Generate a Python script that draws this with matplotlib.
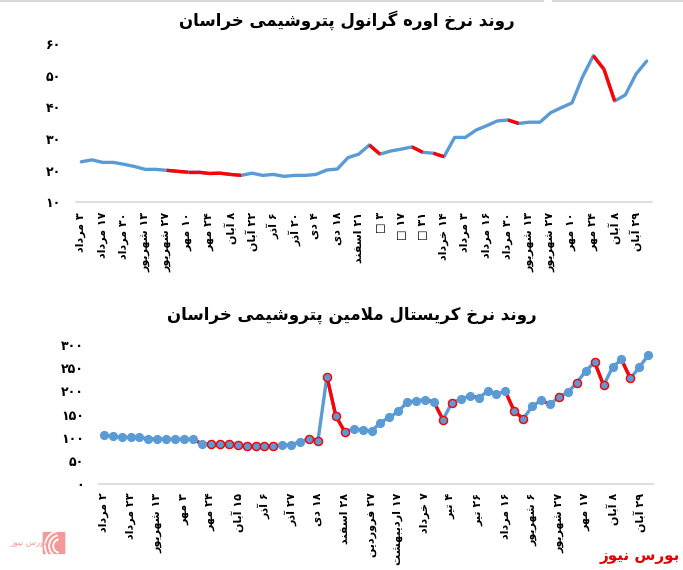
import re
import matplotlib
matplotlib.use('Agg')
import matplotlib.pyplot as plt
from matplotlib.lines import Line2D
from matplotlib.patches import FancyBboxPatch, Arc

# ---------------- data ----------------
urea_labels = ['۳ مرداد', '۱۷ مرداد', '۳۰ مرداد', '۱۳ شهریور', '۲۷ شهریور', '۱۰ مهر', '۲۴ مهر',
               '۸ آبان', '۲۲ آبان', '۶ آذر', '۲۰ آذر', '۴ دی', '۱۸ دی', '۲۱ اسفند', '۳ □',
               '۱۷ □', '۳۱ □', '۱۴ خرداد', '۳ مرداد', '۱۶ مرداد', '۳۰ مرداد', '۱۳ شهریور',
               '۲۷ شهریور', '۱۰ مهر', '۲۴ مهر', '۸ آبان', '۲۹ آبان']
urea_values = [22.8, 23.4, 22.6, 22.6, 22.0, 21.3, 20.4, 20.4, 20.1, 19.8,
               19.5, 19.5, 19.1, 19.2, 18.8, 18.5, 19.2, 18.5, 18.8, 18.2,
               18.5, 18.5, 18.8, 20.2, 20.5, 24.1, 25.2, 28.1, 25.2, 26.2,
               26.8, 27.5, 25.8, 25.5, 24.4, 30.5, 30.5, 32.8, 34.2, 35.7,
               36.0, 34.9, 35.3, 35.3, 38.3, 39.9, 41.4, 49.7, 56.3, 52.0,
               42.0, 43.9, 50.5, 54.6]
urea_red_segments = [9, 10, 11, 12, 13, 14, 15, 28, 32, 34, 41, 49, 50]
urea_yticks = [10, 20, 30, 40, 50, 60]

mel_labels = ['۲ مرداد', '۲۳ مرداد', '۱۳ شهریور', '۳ مهر', '۲۴ مهر', '۱۵ آبان', '۶ آذر',
              '۲۷ آذر', '۱۸ دی', '۲۸ اسفند', '۲۷ فروردین', '۱۷ اردیبهشت', '۷ خرداد', '۴ تیر',
              '۲۶ تیر', '۱۶ مرداد', '۶ شهریور', '۲۷ شهریور', '۱۷ مهر', '۸ آبان', '۲۹ آبان']
mel_values = [106, 103, 101, 101, 101, 98, 98, 97, 97, 97, 97,
              87, 87, 87, 87, 85, 83, 83, 83, 83,
              85, 85, 92, 98, 94, 232, 147, 113,
              120, 117, 114,
              133, 144, 157, 177, 180, 182, 177, 139, 176, 183,
              191, 186, 200, 195, 200, 157, 141, 168, 181, 172,
              188, 198, 219, 244, 263, 213, 252, 269, 228, 252, 278]
mel_red_segments = [11, 12, 13, 14, 15, 16, 17, 18, 19, 24, 26, 27, 37, 38, 42, 44, 46, 47, 50, 56, 59]
mel_red_markers = [12, 13, 14, 15, 16, 17, 18, 19, 23, 24, 25, 26, 27, 38, 39, 46, 47, 51, 53, 55, 56, 59]
mel_yticks = [0, 50, 100, 150, 200, 250, 300]

title_top = 'روند نرخ اوره گرانول پتروشیمی خراسان'
title_bottom = 'روند نرخ کریستال ملامین پتروشیمی خراسان'
brand = 'بورس نیوز'

# ---------------- minimal Persian shaping ----------------
FORMS = {
    'ا': ('\uFE8D', '\uFE8E'), 'آ': ('\uFE81', '\uFE82'),
    'ب': ('\uFE8F', '\uFE90', '\uFE91', '\uFE92'), 'پ': ('\uFB56', '\uFB57', '\uFB58', '\uFB59'),
    'ت': ('\uFE95', '\uFE96', '\uFE97', '\uFE98'), 'ج': ('\uFE9D', '\uFE9E', '\uFE9F', '\uFEA0'),
    'چ': ('\uFB7A', '\uFB7B', '\uFB7C', '\uFB7D'), 'ح': ('\uFEA1', '\uFEA2', '\uFEA3', '\uFEA4'),
    'خ': ('\uFEA5', '\uFEA6', '\uFEA7', '\uFEA8'), 'د': ('\uFEA9', '\uFEAA'),
    'ذ': ('\uFEAB', '\uFEAC'), 'ر': ('\uFEAD', '\uFEAE'), 'ز': ('\uFEAF', '\uFEB0'),
    'ژ': ('\uFB8A', '\uFB8B'), 'س': ('\uFEB1', '\uFEB2', '\uFEB3', '\uFEB4'),
    'ش': ('\uFEB5', '\uFEB6', '\uFEB7', '\uFEB8'), 'ع': ('\uFEC9', '\uFECA', '\uFECB', '\uFECC'),
    'ف': ('\uFED1', '\uFED2', '\uFED3', '\uFED4'), 'ق': ('\uFED5', '\uFED6', '\uFED7', '\uFED8'),
    'ک': ('\uFB8E', '\uFB8F', '\uFB90', '\uFB91'), 'گ': ('\uFB92', '\uFB93', '\uFB94', '\uFB95'),
    'ل': ('\uFEDD', '\uFEDE', '\uFEDF', '\uFEE0'), 'م': ('\uFEE1', '\uFEE2', '\uFEE3', '\uFEE4'),
    'ن': ('\uFEE5', '\uFEE6', '\uFEE7', '\uFEE8'), 'ه': ('\uFEE9', '\uFEEA', '\uFEEB', '\uFEEC'),
    'و': ('\uFEED', '\uFEEE'), 'ی': ('\uFBFC', '\uFBFD', '\uFBFE', '\uFBFF'),
}
LAMALEF = {'ا': ('\uFEFB', '\uFEFC'), 'آ': ('\uFEF5', '\uFEF6')}


def _dual(c):
    return c in FORMS and len(FORMS[c]) == 4


def fa(s):
    res = []
    n = len(s)
    i = 0
    while i < n:
        c = s[i]
        if c not in FORMS:
            res.append(c)
            i += 1
            continue
        pj = i > 0 and _dual(s[i - 1])
        if c == 'ل' and i + 1 < n and s[i + 1] in LAMALEF:
            lig = LAMALEF[s[i + 1]]
            res.append(lig[1] if pj else lig[0])
            i += 2
            continue
        nj = _dual(c) and i + 1 < n and s[i + 1] in FORMS
        f = FORMS[c]
        if pj and nj:
            res.append(f[3])
        elif pj:
            res.append(f[1])
        elif nj:
            res.append(f[2])
        else:
            res.append(f[0])
        i += 1
    shaped = ''.join(res)
    tokens = re.findall(r'[0-9\u06F0-\u06F9]+|.', shaped)
    return ''.join(reversed(tokens))


def fa_num(v):
    return str(v).translate(str.maketrans('0123456789', '۰۱۲۳۴۵۶۷۸۹'))


# ---------------- figure ----------------
plt.rcParams['font.family'] = ['DejaVu Sans']
BLUE = '#5B9BD5'
RED = '#FF0000'
AXC = '#D9D9D9'

W, H = 683, 570
fig = plt.figure(figsize=(W / 100, H / 100), dpi=100)


def fx(px):
    return px / W


def fy(py):
    return 1 - py / H


def style_axes(ax):
    for s in ['top', 'right', 'left']:
        ax.spines[s].set_visible(False)
    ax.spines['bottom'].set_color(AXC)
    ax.spines['bottom'].set_linewidth(1.2)
    ax.tick_params(length=0)


# top chart
ax1 = fig.add_axes([fx(76), fy(202.3), fx(652) - fx(76), fy(44) - fy(202.3)])
n1 = len(urea_values)
xs1 = list(range(n1))
ax1.plot(xs1, urea_values, color=BLUE, lw=2.4, solid_joinstyle='round', solid_capstyle='round', zorder=2)
for k in urea_red_segments:
    ax1.plot([k - 1, k], [urea_values[k - 1], urea_values[k]], color=RED, lw=2.4,
             solid_capstyle='butt', zorder=3)
ax1.set_xlim(-0.5, n1 - 0.5)
ax1.set_ylim(10, 60)
ax1.set_yticks(urea_yticks)
ax1.set_yticklabels([fa_num(v) for v in urea_yticks], fontsize=9, fontweight='bold')
ax1.set_xticks(list(range(0, n1, 2))[:len(urea_labels)])
ax1.set_xticklabels([fa(t) for t in urea_labels], rotation=90, fontsize=8, fontweight='bold')
style_axes(ax1)
ax1.tick_params(axis='y', pad=11)
ax1.tick_params(axis='x', pad=7)
fig.text(fx(347), fy(20), fa(title_top), ha='center', va='center', fontsize=12, fontweight='bold')

# bottom chart
ax2 = fig.add_axes([fx(99.3), fy(484.3), fx(652.7) - fx(99.3), fy(345) - fy(484.3)])
n2 = len(mel_values)
xs2 = list(range(n2))
ax2.plot(xs2, mel_values, color=BLUE, lw=2.4, solid_joinstyle='round', zorder=2)
for k in mel_red_segments:
    ax2.plot([k - 1, k], [mel_values[k - 1], mel_values[k]], color=RED, lw=2.4,
             solid_capstyle='butt', zorder=3)
ax2.plot(xs2, mel_values, ls='none', marker='o', ms=5.8, mfc=BLUE, mec=BLUE, mew=0.8, zorder=4)
ax2.plot([xs2[i] for i in mel_red_markers], [mel_values[i] for i in mel_red_markers], ls='none',
         marker='o', ms=5.8, mfc=BLUE, mec=RED, mew=1.0, zorder=5)
ax2.set_xlim(-0.5, n2 - 0.5)
ax2.set_ylim(0, 300)
ax2.set_yticks(mel_yticks)
ax2.set_yticklabels([fa_num(v) for v in mel_yticks], fontsize=9, fontweight='bold')
ax2.set_xticks(list(range(0, n2, 3))[:len(mel_labels)])
ax2.set_xticklabels([fa(t) for t in mel_labels], rotation=90, fontsize=8, fontweight='bold')
style_axes(ax2)
ax2.tick_params(axis='y', pad=11)
ax2.tick_params(axis='x', pad=6)
fig.text(fx(352), fy(315), fa(title_bottom), ha='center', va='center', fontsize=12, fontweight='bold')

# decorations
fig.add_artist(Line2D([0, fx(543)], [fy(1), fy(1)], color=AXC, lw=1.5))
fig.add_artist(Line2D([fx(553), 1], [fy(1), fy(1)], color=AXC, lw=1.5))
fig.text(fx(680), fy(557), fa(brand), ha='right', va='center', fontsize=11,
         fontweight='bold', color='#E00000')
# faint logo
logo = FancyBboxPatch((fx(44), fy(553)), fx(20), fy(533) - fy(553),
                      boxstyle='round,pad=0.002', fc='#F29A9A', ec='none', transform=fig.transFigure)
fig.add_artist(logo)
for r in (0.010, 0.016, 0.022):
    fig.add_artist(Arc((fx(60), fy(546)), r * 2, r * 2 * W / H, theta1=100, theta2=260,
                       color='white', lw=1.3, transform=fig.transFigure))
fig.text(fx(29), fy(543), fa(brand), ha='center', va='center', fontsize=6,
         color='#F29A9A')

fig.savefig('out.png', dpi=100, facecolor='white')
